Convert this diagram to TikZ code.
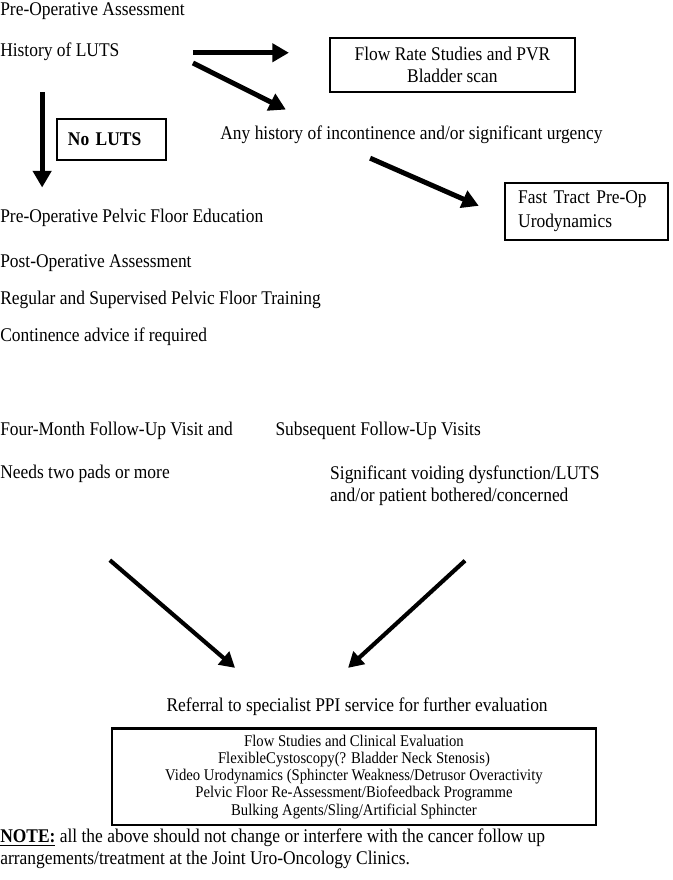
\documentclass[tikz,border=0pt]{standalone}
\usepackage{fontspec}
\setmainfont{Liberation Serif}[FakeStretch=0.9]
\usetikzlibrary{arrows.meta}

\begin{document}
\begin{tikzpicture}[
txt/.style={anchor=west, inner sep=0pt, font=\fontsize{14}{17.5}\selectfont, text height=8.6pt, text depth=2.8pt},
lines/.style={anchor=west, inner sep=0pt, align=left, font=\fontsize{14}{15.8}\selectfont},
box/.style={draw, line width=1.8pt, inner sep=0pt, align=center, font=\fontsize{14}{15.8}\selectfont},
fat/.style={line width=3.6pt, -{Triangle[length=12pt,width=13pt]}},
slim/.style={line width=3pt, -{Triangle[length=11pt,width=12pt]}}
]
\useasboundingbox (0,0) rectangle (17.09,22.35);

\draw
(0,22.05) node[txt] (preop) {Pre-Operative Assessment}
(0,21.01) node[txt] (hist) {History of LUTS}
(11.49,20.70) node[box, minimum width=6.22cm, minimum height=1.37cm] (flow) {Flow Rate Studies and PVR\\Bladder scan}
(2.83,18.81) node[box, line width=1pt, align=left, text width=2.21cm, inner xsep=0.28cm, minimum height=1.04cm] (nolu) {\textbf{No LUTS}}
(5.59,18.92) node[txt] (any) {Any history of incontinence and/or significant urgency}
(14.90,16.98) node[box, align=left, text width=3.48cm, inner xsep=0.33cm, minimum height=1.45cm, font=\fontsize{14}{17}\selectfont] (fast) {Fast Tract Pre-Op\\Urodynamics}
(0,16.81) node[txt] (pelvic) {Pre-Operative Pelvic Floor Education}
(0,15.65) node[txt] (postop) {Post-Operative Assessment}
(0,14.73) node[txt] (regular) {Regular and Supervised Pelvic Floor Training}
(0,13.79) node[txt] (contin) {Continence advice if required}
(0,11.38) node[txt] (fourm) {Four-Month Follow-Up Visit and}
(6.99,11.38) node[txt] (subseq) {Subsequent Follow-Up Visits}
(0,10.29) node[txt] (needs) {Needs two pads or more}
(8.38,10.01) node[lines] (signif) {Significant voiding dysfunction/LUTS\\and/or patient bothered/concerned}
(9.07,4.37) node[txt, anchor=center] (refer) {Referral to specialist PPI service for further evaluation}
(8.99,2.62) node[box, minimum width=12.29cm, minimum height=2.45cm, font=\fontsize{11.8}{12.4}\selectfont] (eval) {Flow Studies and Clinical Evaluation\\FlexibleCystoscopy(? Bladder Neck Stenosis)\\Video Urodynamics (Sphincter Weakness/Detrusor Overactivity\\Pelvic Floor Re-Assessment/Biofeedback Programme\\Bulking Agents/Sling/Artificial Sphincter}
(0,0.79) node[lines] (note) {\underline{\textbf{NOTE:}} all the above should not change or interfere with the cancer follow up\\arrangements/treatment at the Joint Uro-Oncology Clinics.}
;

\draw[fat, shorten <=4.90cm, shorten >=1.01cm] (hist.west) -- (hist.west -| flow.west);
\draw[fat] ([shift={(4.90,-0.26)}]hist.west) -- ([shift={(1.67,0.44)}]any.north west);
\draw[fat, shorten <=0.79cm, shorten >=0.57cm] ([xshift=1.07cm]hist.south west) -- ([xshift=1.07cm]pelvic.north west);
\draw[fat] ([shift={(3.81,-0.38)}]any.south west) -- ([shift={(-0.64,-0.615)}]fast.north west);
\draw[slim] ([shift={(2.79,-1.96)}]needs.south west) -- ([shift={(-3.10,0.81)}]refer.north);
\draw[slim] ([shift={(3.43,-1.39)}]signif.south west) -- ([shift={(-0.23,0.81)}]refer.north);
\end{tikzpicture}
\end{document}
